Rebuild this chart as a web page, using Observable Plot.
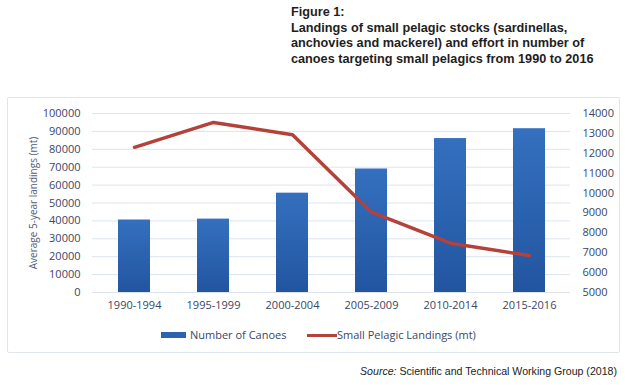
<!DOCTYPE html>
<html>
<head>
<meta charset="utf-8">
<script src="https://cdn.jsdelivr.net/npm/d3@7"></script>
<script src="https://cdn.jsdelivr.net/npm/@observablehq/plot@0.6"></script>
<style>
  html, body { margin: 0; padding: 0; background: #fff; }
  #wrap { position: relative; width: 635px; height: 386px; overflow: hidden; font-family: "Open Sans", sans-serif; }
  #panel { position: absolute; left: 7px; top: 97px; width: 611px; height: 254px; border: 1.5px solid #dfe5ec; border-radius: 2px; }
  #chart { position: absolute; left: 0; top: 0; }
  #title { position: absolute; left: 291px; top: 5px; font-family: "Liberation Sans", Arial, sans-serif; font-weight: bold; font-size: 12.7px; line-height: 15.5px; color: #1e1e1e; }
  .leg { position: absolute; top: 327px; font-size: 11px; color: #3a4664; line-height: 16px; white-space: nowrap; }
  .sw { display: inline-block; vertical-align: middle; }
  #source { position: absolute; right: 18px; top: 365px; font-family: "Liberation Sans", Arial, sans-serif; font-size: 10.6px; color: #222; }
  g[aria-label="y-axis label"] text { font-size: 10px; fill: #4f5c7c; }
</style>
</head>
<body>
<div id="wrap">
  <div id="panel"></div>
  <div id="chart"></div>
  <div id="title">Figure 1:<br>Landings of small pelagic stocks (sardinellas,<br>anchovies and mackerel) and effort in number of<br>canoes targeting small pelagics from 1990 to 2016</div>
  <div class="leg" style="left:161px"><span class="sw" style="width:25px;height:6px;background:#2b63b0;margin-right:4px;margin-top:-2px"></span>Number of Canoes</div>
  <div class="leg" style="left:307px"><span class="sw" style="width:30px;height:3px;background:#b5413b;margin-right:0px;margin-top:-2px"></span>Small Pelagic Landings (mt)</div>
  <div id="source"><i>Source:</i> Scientific and Technical Working Group (2018)</div>
</div>
<script>
const periods = ["1990-1994", "1995-1999", "2000-2004", "2005-2009", "2010-2014", "2015-2016"];
const barValues = [40500, 41000, 55500, 69000, 86000, 91500];        // left axis units
const lineValues = [12300, 13550, 12930, 9040, 7480, 6860];          // right axis units
const leftTicks = [0, 10000, 20000, 30000, 40000, 50000, 60000, 70000, 80000, 90000, 100000];
const rightTicks = [5000, 6000, 7000, 8000, 9000, 10000, 11000, 12000, 13000, 14000];

const leftMax = 100000, rMin = 5000, rMax = 14000;
const toLeft = v => (v - rMin) / (rMax - rMin) * leftMax;

const bars = periods.map((p, i) => ({period: p, value: barValues[i]}));
const line = periods.map((p, i) => ({period: p, value: toLeft(lineValues[i])}));

const chart = Plot.plot({
  width: 635,
  height: 320,
  marginTop: 113,
  marginBottom: 28,
  marginLeft: 92,
  marginRight: 65,
  style: {fontFamily: "'Open Sans', sans-serif", fontSize: "11px", color: "#3a4664", background: "transparent"},
  x: {domain: periods, paddingInner: 0.6, paddingOuter: 0.3},
  y: {domain: [0, leftMax]},
  marks: [
    Plot.ruleY(leftTicks, {stroke: "#dde4ee", strokeWidth: 1}),
    Plot.barY(bars, {x: "period", y: "value", fill: "url(#barGrad)"}),
    Plot.line(line, {x: "period", y: "value", stroke: "#b5413b", strokeWidth: 3.5, strokeLinejoin: "round"}),
    Plot.axisX({tickSize: 0, tickPadding: 9, label: null, fill: "#3a4664", fontSize: 11}),
    Plot.axisY({ticks: leftTicks, tickSize: 0, tickPadding: 12, tickFormat: d => String(d), label: "Average 5-year landings (mt)", labelArrow: "none", labelAnchor: "center", labelOffset: 63, fill: "#3a4664", fontSize: 11}),
    Plot.axisY(rightTicks.map(toLeft), {anchor: "right", tickSize: 0, tickPadding: 12, tickFormat: d => String(Math.round(rMin + d / leftMax * (rMax - rMin))), label: null, fill: "#3a4664", fontSize: 11})
  ]
});
const ns = "http://www.w3.org/2000/svg";
const defs = document.createElementNS(ns, "defs");
defs.innerHTML = '<linearGradient id="barGrad" x1="0" y1="0" x2="0" y2="1"><stop offset="0" stop-color="#3470bf"/><stop offset="1" stop-color="#2255a0"/></linearGradient>';
chart.insertBefore(defs, chart.firstChild);
document.getElementById("chart").appendChild(chart);
</script>
</body>
</html>
